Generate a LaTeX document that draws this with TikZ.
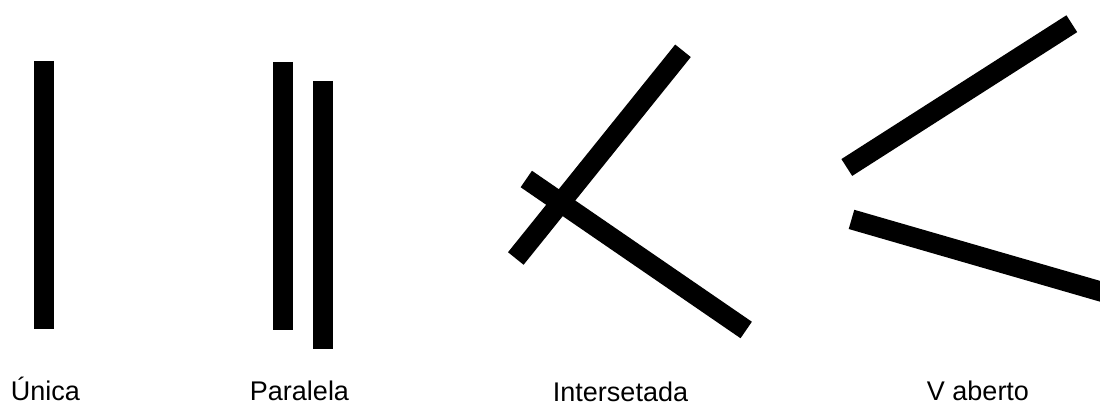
\documentclass[tikz,border=0pt]{standalone}
\usepackage{fontspec}
\setmainfont{Liberation Sans}
\begin{document}
\begin{tikzpicture}
         [x=1pt, y=-1pt, bar/.style={line width=20pt, line cap=butt},
          label text/.style={anchor=base, inner sep=0pt, font=\fontsize{27}{30}\selectfont}]
         \useasboundingbox (0,0) rectangle (1100,403);
         \clip (0,0) rectangle (1100,403);
         % bar end points
         \coordinate (u1) at (44,61);
         \coordinate (u2) at (44,329);
         \coordinate (p1) at (282.7,62);
         \coordinate (p2) at (282.7,330);
         \coordinate (q1) at (323,81);
         \coordinate (q2) at (323,349);
         \coordinate (i1) at (515.8,258.5);
         \coordinate (i2) at (683,50.8);
         \coordinate (j1) at (526.3,179);
         \coordinate (j2) at (746.2,330);
         \coordinate (v1) at (846.8,167.5);
         \coordinate (v2) at (1071.8,23.7);
         \coordinate (w1) at (851.5,219.4);
         \coordinate (w2) at (1125,298.5);
         
         \draw[bar] (u1) -- (u2);
         \draw[bar] (p1) -- (p2);
         \draw[bar] (q1) -- (q2);
         
         \draw[bar] (i1) -- (i2);
         \draw[bar] (j1) -- (j2);
         
         \draw[bar] (v1) -- (v2);
         \draw[bar] (w1) -- (w2);
         
         \node[label text] (unica) at (45.5,400) {Única};
         \node[label text] (paralela) at (299.5,400) {Paralela};
         \node[label text] (intersetada) at (620.5,401) {Intersetada};
         \node[label text] (vaberto) at (978,400) {V aberto};
      \end{tikzpicture}
\end{document}
